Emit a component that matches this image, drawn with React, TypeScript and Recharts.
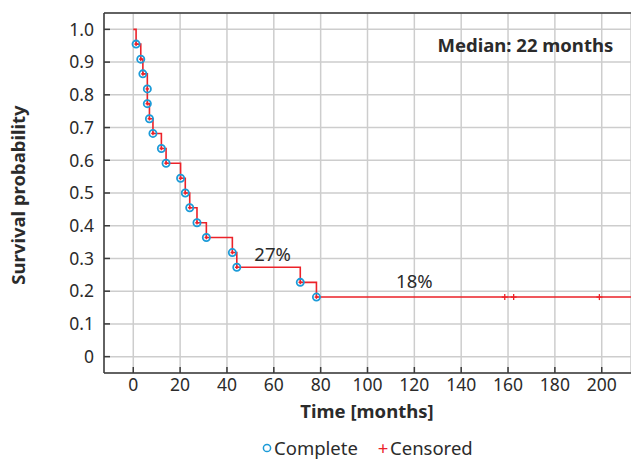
import React from 'react';
import {
  ComposedChart,
  Line,
  Scatter,
  XAxis,
  YAxis,
  CartesianGrid,
  ReferenceDot,
  Customized,
} from 'recharts';

// ---- data ----
const eventTimes = [1.2, 3.2, 4.1, 6.0, 6.0, 6.9, 8.4, 12.0, 14.0, 20.2, 22.2, 24.1, 27.2, 31.2, 42.3, 44.2, 71.3, 78.2];
const eventSurvival = [0.955, 0.909, 0.864, 0.818, 0.773, 0.727, 0.682, 0.636, 0.591, 0.545, 0.5, 0.455, 0.409, 0.364, 0.318, 0.273, 0.227, 0.182];
const censoredTimes = [158.6, 162.4, 199.0];
const censoredSurvival = [0.182, 0.182, 0.182];
const timeTicks = [0, 20, 40, 60, 80, 100, 120, 140, 160, 180, 200];
const probTicks = [0, 0.1, 0.2, 0.3, 0.4, 0.5, 0.6, 0.7, 0.8, 0.9, 1.0];
const percentLabels = [
  { t: 59.5, s: 0.312, text: '27%' },
  { t: 120, s: 0.229, text: '18%' },
];
const medianLabel = { t: 167.4, s: 0.951, text: 'Median: 22 months' };
const xDomain = [-12.5, 212.5];
const yDomain = [-0.05, 1.05];

const startPoint = { t: 0, s: 1.0 };
const endTime = 212.5;

const completeData = eventTimes.map((t, i) => ({ t, s: eventSurvival[i] }));
const censoredData = censoredTimes.map((t, i) => ({ t, s: censoredSurvival[i] }));
const curveData = [
  startPoint,
  ...completeData,
  ...censoredData,
  { t: endTime, s: censoredSurvival[censoredSurvival.length - 1] },
];

const FONT = '"Noto Sans", "Open Sans", sans-serif';
const TEXT = '#2b2b2b';
const RED = '#ec2229';
const BLUE = '#1c9bd8';
const AXIS = '#3a3a3a';
const GRID = '#cdcdcd';
const TICK_FS = 17.5;
const FS = 18.5;

const YTick = (props: any) => {
  const { x, y, payload } = props;
  const v = payload.value;
  const label = v === 0 ? '0' : v.toFixed(1);
  return (
    <g>
      <line x1={x + 10} x2={x + 16} y1={y} y2={y} stroke={AXIS} strokeWidth={1.5} />
      <text x={x} y={y} dy="0.36em" textAnchor="end" fontSize={TICK_FS} fontFamily={FONT} fill={TEXT}>
        {label}
      </text>
    </g>
  );
};

const XTick = (props: any) => {
  const { x, y, payload } = props;
  return (
    <g>
      <line x1={x} x2={x} y1={y - 6} y2={y - 12} stroke={AXIS} strokeWidth={1.5} />
      <text x={x} y={y} dy="0.71em" textAnchor="middle" fontSize={TICK_FS} fontFamily={FONT} fill={TEXT}>
        {payload.value}
      </text>
    </g>
  );
};

const CompleteMarker = (props: any) => {
  const { cx, cy } = props;
  return (
    <g>
      <circle cx={cx} cy={cy} r={3.6} fill="none" stroke={BLUE} strokeWidth={1.8} />
      <line x1={cx - 1.8} x2={cx + 1.8} y1={cy} y2={cy} stroke={RED} strokeWidth={1.4} />
      <line x1={cx} x2={cx} y1={cy - 1.8} y2={cy + 1.8} stroke={RED} strokeWidth={1.4} />
    </g>
  );
};

const CensoredMarker = (props: any) => {
  const { cx, cy } = props;
  return (
    <g>
      <line x1={cx - 3} x2={cx + 3} y1={cy} y2={cy} stroke={RED} strokeWidth={1.3} />
      <line x1={cx} x2={cx} y1={cy - 3} y2={cy + 3} stroke={RED} strokeWidth={1.3} />
    </g>
  );
};

const Decorations = () => (
  <g fontFamily={FONT}>
    <line x1={104} x2={631} y1={13} y2={13} stroke={AXIS} strokeWidth={1.5} />
    <text
      x={18}
      y={195}
      transform="rotate(-90 18 195)"
      textAnchor="middle"
      dy="0.36em"
      fontSize={FS}
      fontWeight="bold"
      fill={TEXT}
    >
      Survival probability
    </text>
    <text x={367} y={411} dy="0.36em" textAnchor="middle" fontSize={FS} fontWeight="bold" fill={TEXT}>
      Time [months]
    </text>
    <circle cx={267} cy={448} r={3.6} fill="none" stroke={BLUE} strokeWidth={1.5} />
    <text x={274} y={448} dy="0.36em" fontSize={FS} fill={TEXT}>
      Complete
    </text>
    <text x={383} y={448} dy="0.36em" textAnchor="middle" fontSize={FS} fill={RED}>
      +
    </text>
    <text x={390} y={448} dy="0.36em" fontSize={FS} fill={TEXT}>
      Censored
    </text>
  </g>
);

export default function App() {
  return (
    <div style={{ position: 'absolute', left: 0, top: 0, width: 631, height: 459, background: '#fff', fontFamily: FONT }}>
      <ComposedChart width={631} height={459} margin={{ top: 13, right: 0, bottom: 0, left: 0 }}>
        <CartesianGrid stroke={GRID} strokeWidth={1.5} />
        <XAxis
          type="number"
          dataKey="t"
          domain={xDomain}
          ticks={timeTicks}
          allowDataOverflow
          height={86}
          tickSize={0}
          tickMargin={6}
          axisLine={{ stroke: AXIS, strokeWidth: 1.5 }}
          tickLine={false}
          tick={<XTick />}
          interval={0}
        />
        <YAxis
          type="number"
          dataKey="s"
          domain={yDomain}
          ticks={probTicks}
          allowDataOverflow
          width={104}
          tickSize={0}
          tickMargin={10}
          axisLine={{ stroke: AXIS, strokeWidth: 1.5 }}
          tickLine={false}
          tick={<YTick />}
          interval={0}
        />
        <Line
          data={curveData}
          dataKey="s"
          type="stepAfter"
          stroke={RED}
          strokeWidth={1.6}
          dot={false}
          activeDot={false}
          isAnimationActive={false}
        />
        <Scatter data={completeData} dataKey="s" shape={<CompleteMarker />} isAnimationActive={false} />
        <Scatter data={censoredData} dataKey="s" shape={<CensoredMarker />} isAnimationActive={false} />
        {percentLabels.map((p) => (
          <ReferenceDot
            key={p.text}
            x={p.t}
            y={p.s}
            r={0}
            fill="none"
            stroke="none"
            label={{ value: p.text, position: 'center', fontSize: FS, fill: TEXT, fontFamily: FONT }}
          />
        ))}
        <ReferenceDot
          x={medianLabel.t}
          y={medianLabel.s}
          r={0}
          fill="none"
          stroke="none"
          label={{ value: medianLabel.text, position: 'center', fontSize: FS, fontWeight: 'bold', fill: TEXT, fontFamily: FONT }}
        />
        <Customized component={Decorations} />
      </ComposedChart>
    </div>
  );
}
